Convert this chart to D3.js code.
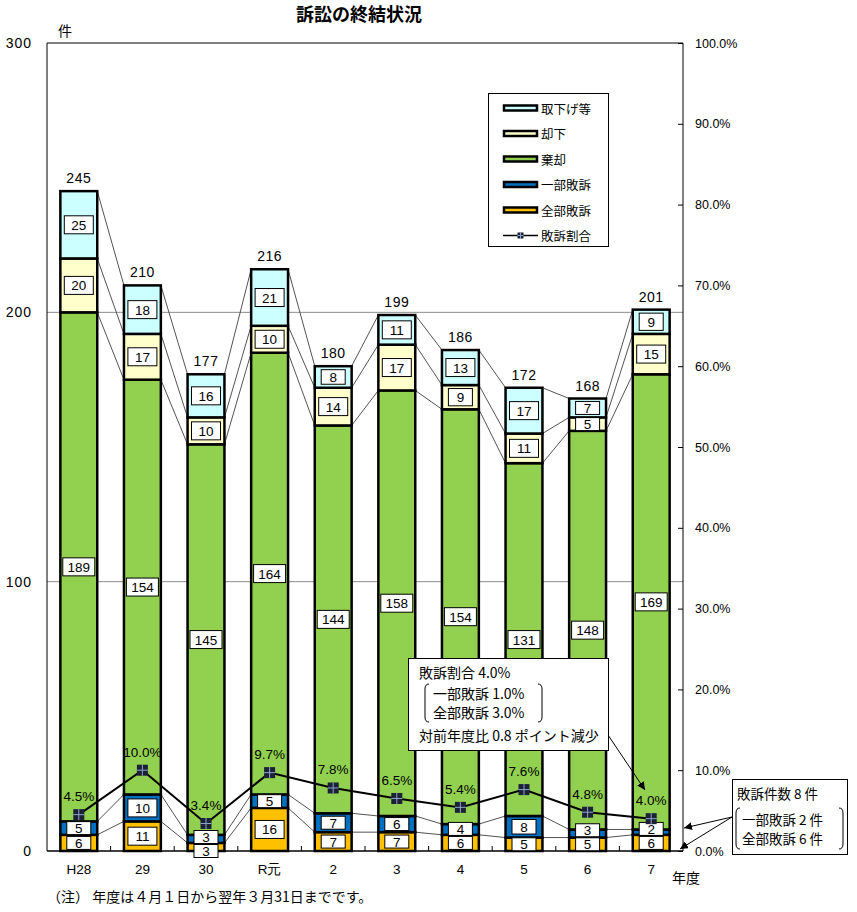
<!DOCTYPE html>
<html>
<head>
<meta charset="utf-8">
<script src="https://cdn.jsdelivr.net/npm/d3@7"></script>
<style>
  body { margin: 0; background: #fff; }
  svg { font-family: "Noto Sans CJK JP", "Noto Sans", sans-serif; }
</style>
</head>
<body>
<svg id="chart" width="857" height="912"></svg>
<script>
// 年度
const years = ["H28", "29", "30", "R元", "2", "3", "4", "5", "6", "7"];
// 件数（下から積み上げ）
const zenbu = [6, 11, 3, 16, 7, 7, 6, 5, 5, 6];           // 全部敗訴
const ichibu = [5, 10, 3, 5, 7, 6, 4, 8, 3, 2];            // 一部敗訴
const kikyaku = [189, 154, 145, 164, 144, 158, 154, 131, 148, 169]; // 棄却
const kyakka = [20, 17, 10, 10, 14, 17, 9, 11, 5, 15];     // 却下
const torisage = [25, 18, 16, 21, 8, 11, 13, 17, 7, 9];    // 取下げ等
// 敗訴割合（%）
const rate = [4.5, 10.0, 3.4, 9.7, 7.8, 6.5, 5.4, 7.6, 4.8, 4.0];
const leftTicks = [0, 100, 200, 300];
const gridTicks = [100, 200];

const keys = ["zenbu", "ichibu", "kikyaku", "kyakka", "torisage"];
const names = { zenbu: "全部敗訴", ichibu: "一部敗訴", kikyaku: "棄却", kyakka: "却下", torisage: "取下げ等" };
const colors = { zenbu: "#FFC000", ichibu: "#0070C0", kikyaku: "#92D050", kyakka: "#FFFFCC", torisage: "#CCFFFF" };

const rows = years.map((y, i) => ({
  year: y, zenbu: zenbu[i], ichibu: ichibu[i], kikyaku: kikyaku[i],
  kyakka: kyakka[i], torisage: torisage[i], rate: rate[i]
}));

const svg = d3.select("#chart");
const pL = 47, pR = 683, pT = 43, pB = 851;
const numFont = "Liberation Sans, Arial, sans-serif";

const x = d3.scaleBand().domain(years).range([pL, pR]).paddingInner(0.42).paddingOuter(0.21);
const y = d3.scaleLinear().domain([0, 300]).range([pB, pT]);
const yR = d3.scaleLinear().domain([0, 100]).range([pB, pT]);
const bw = x.bandwidth();

const series = d3.stack().keys(keys)(rows);

// title
svg.append("text").attr("x", 359).attr("y", 21).attr("text-anchor", "middle")
  .attr("font-size", 18).attr("font-weight", "bold").text("訴訟の終結状況");
svg.append("text").attr("x", 58).attr("y", 36).attr("font-size", 14).text("件");

// grid
svg.append("g").selectAll("line").data(gridTicks).join("line")
  .attr("x1", pL).attr("x2", pR).attr("y1", d => y(d)).attr("y2", d => y(d))
  .attr("stroke", "#8c8c8c").attr("stroke-width", 1);

// frame (top + sides)
svg.append("path").attr("d", `M${pL},${pB}V${pT}H${pR}V${pB}`)
  .attr("fill", "none").attr("stroke", "#000").attr("stroke-width", 1);

// left axis
const gl = svg.append("g").attr("transform", `translate(${pL},0)`)
  .call(d3.axisLeft(y).tickValues(leftTicks).tickSize(0).tickPadding(15));
gl.select(".domain").remove();
gl.selectAll("text").attr("font-size", 14).attr("letter-spacing", 1).attr("font-family", numFont);

// right axis
const gr = svg.append("g").attr("transform", `translate(${pR},0)`)
  .call(d3.axisRight(yR).ticks(10).tickSize(-5).tickPadding(12).tickFormat(d => d.toFixed(1) + "%"));
gr.select(".domain").remove();
gr.selectAll("text").attr("font-size", 12.5).attr("font-family", numFont);

// series connector lines
const conn = svg.append("g");
series.forEach(s => {
  for (let i = 0; i < years.length - 1; i++) {
    conn.append("line")
      .attr("x1", x(years[i]) + bw).attr("y1", y(s[i][1]))
      .attr("x2", x(years[i + 1])).attr("y2", y(s[i + 1][1]))
      .attr("stroke", "#404040").attr("stroke-width", 0.9);
  }
});

// bars
svg.append("g").selectAll("g").data(series).join("g")
  .attr("fill", d => colors[d.key])
  .selectAll("rect").data(d => d).join("rect")
  .attr("x", d => x(d.data.year)).attr("width", bw)
  .attr("y", d => y(d[1])).attr("height", d => y(d[0]) - y(d[1]))
  .attr("stroke", "#000").attr("stroke-width", 2.5);

// x axis line + category boundary ticks
svg.append("line").attr("x1", pL).attr("x2", pR).attr("y1", pB).attr("y2", pB)
  .attr("stroke", "#000").attr("stroke-width", 1.5);
svg.append("g").selectAll("line").data(years.slice(1)).join("line")
  .attr("x1", d => x(d) - x.step() * x.paddingInner() / 2)
  .attr("x2", d => x(d) - x.step() * x.paddingInner() / 2)
  .attr("y1", pB).attr("y2", pB - 5).attr("stroke", "#000");

const gx = svg.append("g").attr("transform", `translate(0,${pB})`)
  .call(d3.axisBottom(x).tickSize(0).tickPadding(13));
gx.select(".domain").remove();
gx.selectAll("text").attr("font-size", 13.5);

// value labels (stacked from bottom, pushed up when they would overlap)
const lab = svg.append("g");
const boxW = [0, 24, 29, 32];
years.forEach((yr, i) => {
  let prevTop = Infinity;
  series.forEach(s => {
    const d = s[i];
    const v = d[1] - d[0];
    const segH = y(d[0]) - y(d[1]);
    const h = Math.max(13, Math.min(18, segH - 7));
    let cy = (y(d[0]) + y(d[1])) / 2;
    if (segH < 12 && s.key === "zenbu") cy = pB; // too thin: label sits on the axis
    if (cy + h / 2 > prevTop - 1) cy = prevTop - 1 - h / 2;
    prevTop = cy - h / 2;
    const txt = String(v);
    const w = boxW[txt.length];
    const cx = x(yr) + bw / 2;
    lab.append("rect").attr("x", cx - w / 2).attr("y", cy - h / 2).attr("width", w).attr("height", h)
      .attr("fill", "#fff").attr("stroke", "#000").attr("stroke-width", 1);
    lab.append("text").attr("x", cx).attr("y", cy + 0.5).attr("text-anchor", "middle")
      .attr("dominant-baseline", "central").attr("font-size", 13.5).attr("font-family", numFont).text(txt);
  });
});

// totals
const totals = series[series.length - 1];
svg.append("g").selectAll("text").data(totals).join("text")
  .attr("x", d => x(d.data.year) + bw / 2).attr("y", d => y(d[1]) - 13)
  .attr("text-anchor", "middle").attr("dominant-baseline", "central")
  .attr("font-size", 14).attr("letter-spacing", 0.5).attr("font-family", numFont).text(d => d[1]);

// rate line
const line = d3.line().x(d => x(d.year) + bw / 2).y(d => yR(d.rate));
svg.append("path").datum(rows).attr("d", line)
  .attr("fill", "none").attr("stroke", "#000").attr("stroke-width", 2);

function marker(g, cx, cy, s) {
  g.append("rect").attr("x", cx - s / 2).attr("y", cy - s / 2).attr("width", s).attr("height", s)
    .attr("fill", "#1b2235");
  g.append("path").attr("d", `M${cx - s / 2},${cy}H${cx + s / 2}M${cx},${cy - s / 2}V${cy + s / 2}`)
    .attr("stroke", "#8ea4cc").attr("stroke-width", 1);
}
const mk = svg.append("g");
rows.forEach(d => marker(mk, x(d.year) + bw / 2, yR(d.rate), 11));

svg.append("g").selectAll("text").data(rows).join("text")
  .attr("x", d => x(d.year) + bw / 2).attr("y", d => yR(d.rate) - 18)
  .attr("text-anchor", "middle").attr("dominant-baseline", "central")
  .attr("font-size", 13.5).attr("font-family", numFont).text(d => d.rate.toFixed(1) + "%");

// legend
const lg = svg.append("g");
lg.append("rect").attr("x", 488.5).attr("y", 93.5).attr("width", 120).attr("height", 153)
  .attr("fill", "#fff").attr("stroke", "#000");
const legendKeys = ["torisage", "kyakka", "kikyaku", "ichibu", "zenbu"];
legendKeys.forEach((k, i) => {
  const ly = 108 + i * 25.5;
  lg.append("rect").attr("x", 504).attr("y", ly - 2.5).attr("width", 33).attr("height", 5)
    .attr("fill", colors[k]).attr("stroke", "#000").attr("stroke-width", 2.5);
  lg.append("text").attr("x", 541).attr("y", ly).attr("dominant-baseline", "central")
    .attr("font-size", 12.5).text(names[k]);
});
{
  const ly = 108 + 5 * 25.5;
  lg.append("line").attr("x1", 503).attr("x2", 538).attr("y1", ly).attr("y2", ly)
    .attr("stroke", "#000").attr("stroke-width", 1.5);
  marker(lg, 520.5, ly, 6);
  lg.append("text").attr("x", 541).attr("y", ly).attr("dominant-baseline", "central")
    .attr("font-size", 12.5).text("敗訴割合");
}

// arrowhead
svg.append("defs").append("marker").attr("id", "arr").attr("viewBox", "0 0 10 10")
  .attr("refX", 10).attr("refY", 5).attr("markerWidth", 8).attr("markerHeight", 8)
  .attr("orient", "auto").attr("markerUnits", "userSpaceOnUse")
  .append("path").attr("d", "M0,0L10,5L0,10z").attr("fill", "#000");

function bracket(g, xl, xr, y0, y1) {
  g.append("path").attr("d", `M${xl + 4},${y0}Q${xl},${y0} ${xl},${y0 + 5}V${y1 - 5}Q${xl},${y1} ${xl + 4},${y1}`)
    .attr("fill", "none").attr("stroke", "#000");
  g.append("path").attr("d", `M${xr - 4},${y0}Q${xr},${y0} ${xr},${y0 + 5}V${y1 - 5}Q${xr},${y1} ${xr - 4},${y1}`)
    .attr("fill", "none").attr("stroke", "#000");
}

// annotation 1
const a1 = svg.append("g");
a1.append("line").attr("x1", 608).attr("y1", 735).attr("x2", 645).attr("y2", 790)
  .attr("stroke", "#000").attr("marker-end", "url(#arr)");
a1.append("rect").attr("x", 408.5).attr("y", 658.5).attr("width", 200).attr("height", 92)
  .attr("fill", "#fff").attr("stroke", "#000");
[["敗訴割合 4.0%", 419, 672], ["一部敗訴 1.0%", 433, 693], ["全部敗訴 3.0%", 433, 712], ["対前年度比 0.8 ポイント減少", 419, 735]]
  .forEach(([t, tx, ty]) => a1.append("text").attr("x", tx).attr("y", ty)
    .attr("dominant-baseline", "central").attr("font-size", 14).text(t));
bracket(a1, 425, 542, 684, 722);

// annotation 2
const a2 = svg.append("g");
a2.append("line").attr("x1", 732).attr("y1", 817).attr("x2", 684).attr("y2", 828)
  .attr("stroke", "#000").attr("marker-end", "url(#arr)");
a2.append("line").attr("x1", 732).attr("y1", 817).attr("x2", 680).attr("y2", 849)
  .attr("stroke", "#000").attr("marker-end", "url(#arr)");
a2.append("rect").attr("x", 732.5).attr("y", 779.5).attr("width", 115).attr("height", 75)
  .attr("fill", "#fff").attr("stroke", "#000");
[["敗訴件数 8 件", 737, 793], ["一部敗訴 2 件", 742, 819], ["全部敗訴 6 件", 742, 838]]
  .forEach(([t, tx, ty]) => a2.append("text").attr("x", tx).attr("y", ty)
    .attr("dominant-baseline", "central").attr("font-size", 13.5).text(t));
bracket(a2, 736, 843, 808, 849);

// footer
svg.append("text").attr("x", 672).attr("y", 883).attr("font-size", 14).text("年度");
svg.append("text").attr("x", 47).attr("y", 902).attr("font-size", 14)
  .text("（注） 年度は４月１日から翌年３月31日までです。");
</script>
</body>
</html>
